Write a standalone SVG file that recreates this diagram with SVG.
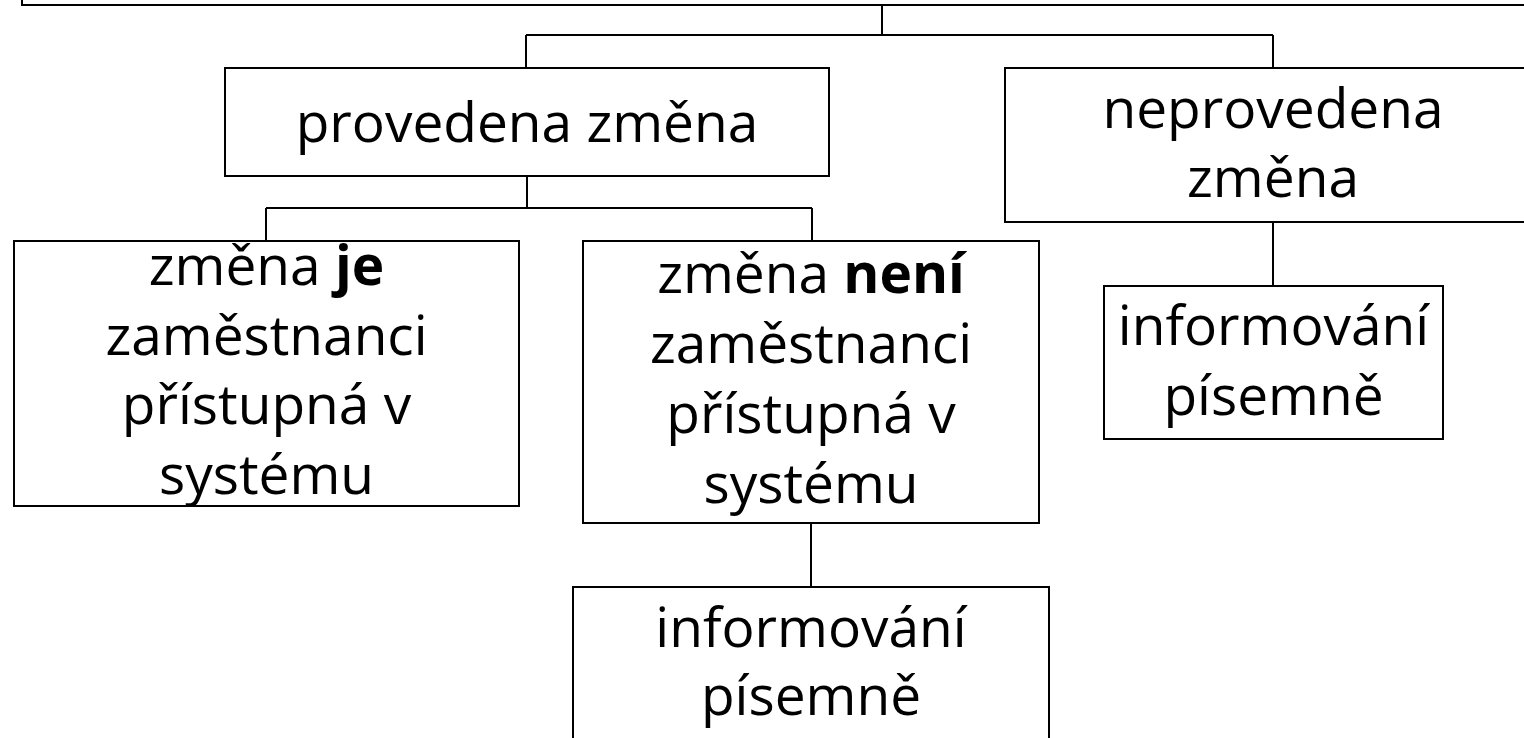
<svg xmlns="http://www.w3.org/2000/svg" width="1524" height="738" viewBox="0 0 1524 738">
<style>
.box{fill:#fff;stroke:#000;stroke-width:2}
.conn{fill:none;stroke:#000;stroke-width:2}
.t{font-family:"Open Sans","Liberation Sans",sans-serif;font-size:55px;fill:#000;text-anchor:middle}
.b{font-weight:bold}
</style>
<rect width="1524" height="738" fill="#fff"/>
<g id="connectors">
<path class="conn" d="M882,5V35M526,35H1273M526,35V68M1273,35V68"/>
<path class="conn" d="M527,176V208M266,208H812M266,208V241M812,208V241"/>
<path class="conn" d="M811,523V587"/>
<path class="conn" d="M1273,222V286"/>
</g>
<g id="top"><rect class="box" x="22" y="-60" width="1560" height="65"/></g>
<g id="provedena">
<rect class="box" x="225" y="68" width="604" height="108"/>
<text class="t" x="527" y="142">provedena změna</text>
</g>
<g id="neprovedena">
<rect class="box" x="1005" y="68" width="536" height="154"/>
<text class="t" x="1273" y="128">neprovedena</text>
<text class="t" x="1273" y="197">změna</text>
</g>
<g id="zmena-je">
<rect class="box" x="14" y="241" width="505" height="265"/>
<text class="t" x="266.5" y="285">změna <tspan class="b">je</tspan></text>
<text class="t" x="266.5" y="355">zaměstnanci</text>
<text class="t" x="266.5" y="424">přístupná v</text>
<text class="t" x="266.5" y="494">systému</text>
</g>
<g id="zmena-neni">
<rect class="box" x="583" y="241" width="456" height="282"/>
<text class="t" x="811" y="293">změna <tspan class="b">není</tspan></text>
<text class="t" x="811" y="363">zaměstnanci</text>
<text class="t" x="811" y="433">přístupná v</text>
<text class="t" x="811" y="503">systému</text>
</g>
<g id="info-1">
<rect class="box" x="573" y="587" width="476" height="200"/>
<text class="t" x="811" y="647">informování</text>
<text class="t" x="811" y="715">písemně</text>
</g>
<g id="info-2">
<rect class="box" x="1104" y="286" width="339" height="153"/>
<text class="t" x="1273.5" y="345">informování</text>
<text class="t" x="1273.5" y="415">písemně</text>
</g>
</svg>
